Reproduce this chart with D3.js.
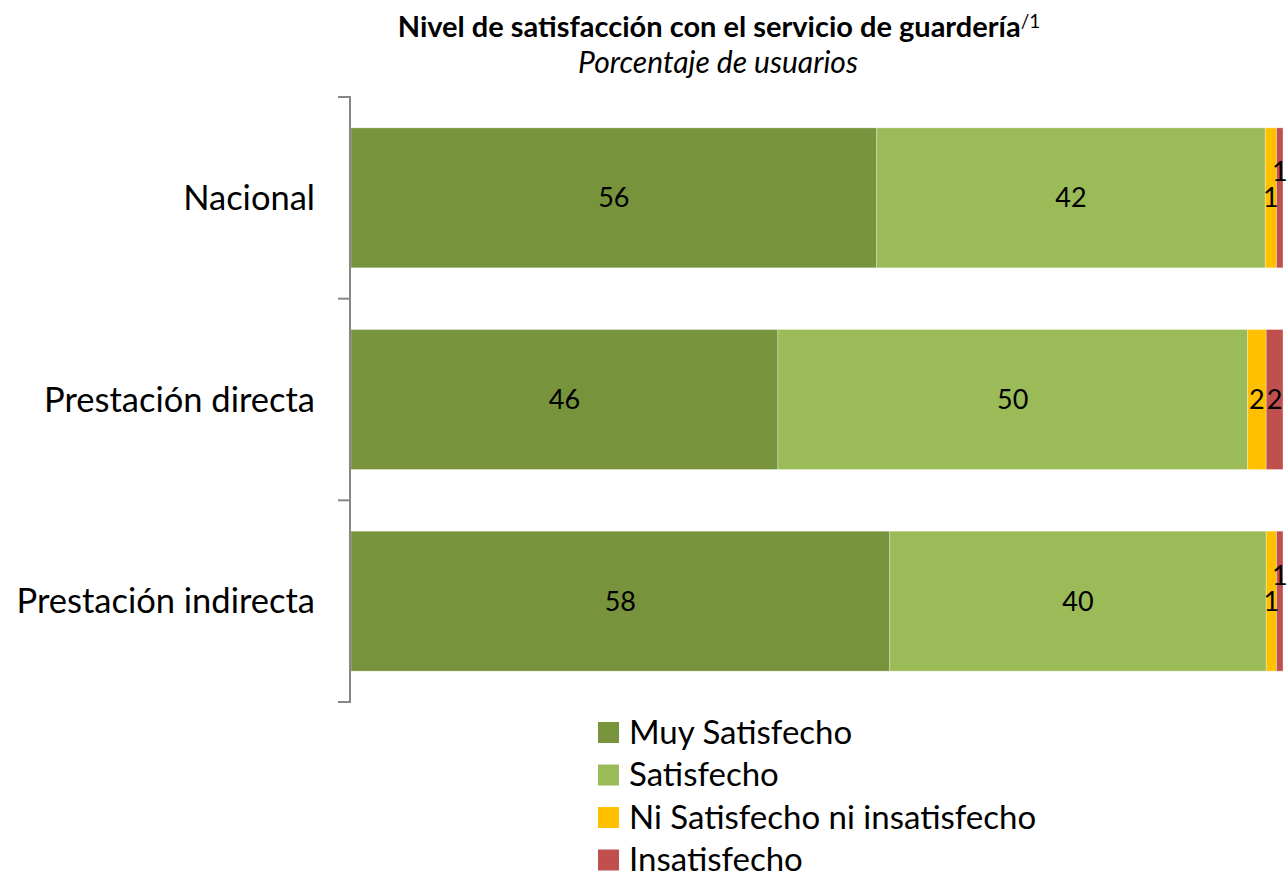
<!DOCTYPE html>
<html>
<head>
<meta charset="utf-8">
<script src="https://cdn.jsdelivr.net/npm/d3@7"></script>
<style>
  body { margin: 0; background: #fff; }
  svg { display: block; font-family: Lato, "Open Sans", sans-serif; }
</style>
</head>
<body>
<svg id="chart" width="1287" height="879"></svg>
<script>
// categories and series (percent of users)
const categories = ['Nacional', 'Prestación directa', 'Prestación indirecta'];
const seriesNames = ['Muy Satisfecho', 'Satisfecho', 'Ni Satisfecho ni insatisfecho', 'Insatisfecho'];
const muySatisfecho = [56.4, 45.8, 57.8];
const satisfecho = [41.7, 50.4, 40.4];
const niSatisfecho = [1.2, 2.0, 1.1];
const insatisfecho = [0.7, 1.8, 0.7];
const colors = ['#77933C', '#9BBB59', '#FFC000', '#C0504D'];

const title = 'Nivel de satisfacción con el servicio de guardería';
const subtitle = 'Porcentaje de usuarios';

(function () {
    const svg = d3.select('#chart');

    const rows = categories.map((c, i) => {
        const r = { cat: c };
        r[seriesNames[0]] = muySatisfecho[i];
        r[seriesNames[1]] = satisfecho[i];
        r[seriesNames[2]] = niSatisfecho[i];
        r[seriesNames[3]] = insatisfecho[i];
        return r;
    });

    const stacked = d3.stack().keys(seriesNames)(rows);

    const x = d3.scaleLinear().domain([0, 100]).range([351, 1283]);
    const y = d3.scaleBand()
        .domain(categories)
        .range([97, 702])
        .paddingInner(0.306)
        .paddingOuter(0.153);

    // title
    const t = svg.append('text')
        .attr('x', 719).attr('y', 37)
        .attr('text-anchor', 'middle')
        .style('font-size', '29px');
    t.append('tspan').attr('font-weight', 'bold').text(title);
    t.append('tspan').attr('dy', -9).style('font-size', '19px').text('/1');

    svg.append('text')
        .attr('x', 718).attr('y', 73)
        .attr('text-anchor', 'middle')
        .style('font-size', '30px')
        .style('font-style', 'italic')
        .text(subtitle);

    // bars
    const layer = svg.append('g').selectAll('g')
        .data(stacked)
        .join('g')
        .attr('fill', (d, i) => colors[i]);

    layer.selectAll('rect')
        .data(d => d)
        .join('rect')
        .attr('x', d => x(d[0]))
        .attr('width', d => x(d[1]) - x(d[0]))
        .attr('y', d => y(d.data.cat))
        .attr('height', y.bandwidth())
        .attr('stroke', 'rgba(255,255,255,0.3)')
        .attr('stroke-width', 1);

    // data labels
    const fmt = d3.format('.0f');
    stacked.forEach((s, si) => {
        svg.append('g').selectAll('text')
            .data(s)
            .join('text')
            .attr('x', d => (x(d[0]) + x(d[1])) / 2)
            .attr('y', d => {
                let cy = y(d.data.cat) + y.bandwidth() / 2;
                // tiny last segment label is nudged up to avoid overlap
                if (si === 3 && d[1] - d[0] < 1) cy -= 26;
                return cy;
            })
            .attr('dy', '0.35em')
            .attr('text-anchor', 'middle')
            .style('font-size', '27px')
            .attr('fill', '#000')
            .text(d => fmt(d[1] - d[0]));
    });

    // category axis
    const axisX = 350;
    const ax = svg.append('g');
    ax.append('line')
        .attr('x1', axisX).attr('x2', axisX)
        .attr('y1', y.range()[0]).attr('y2', y.range()[1])
        .attr('stroke', '#868686').attr('stroke-width', 2);
    const tickYs = d3.range(categories.length + 1).map(i => y.range()[0] + i * y.step());
    ax.selectAll('line.tick')
        .data(tickYs)
        .join('line')
        .attr('class', 'tick')
        .attr('x1', axisX - 12).attr('x2', axisX + 1)
        .attr('y1', d => d).attr('y2', d => d)
        .attr('stroke', '#868686').attr('stroke-width', 2);

    ax.selectAll('text')
        .data(categories)
        .join('text')
        .attr('x', 315)
        .attr('y', d => y(d) + y.bandwidth() / 2)
        .attr('dy', '0.35em')
        .attr('text-anchor', 'end')
        .style('font-size', '34.5px')
        .text(d => d);

    // legend
    const legend = svg.append('g')
        .selectAll('g')
        .data(seriesNames)
        .join('g')
        .attr('transform', (d, i) => `translate(598, ${732 + i * 42.5})`);
    legend.append('rect')
        .attr('x', 0).attr('y', -10)
        .attr('width', 21).attr('height', 21)
        .attr('fill', (d, i) => colors[i]);
    legend.append('text')
        .attr('x', 31).attr('y', 0)
        .attr('dy', '0.35em')
        .style('font-size', '33px')
        .text(d => d);
}());
</script>
</body>
</html>
